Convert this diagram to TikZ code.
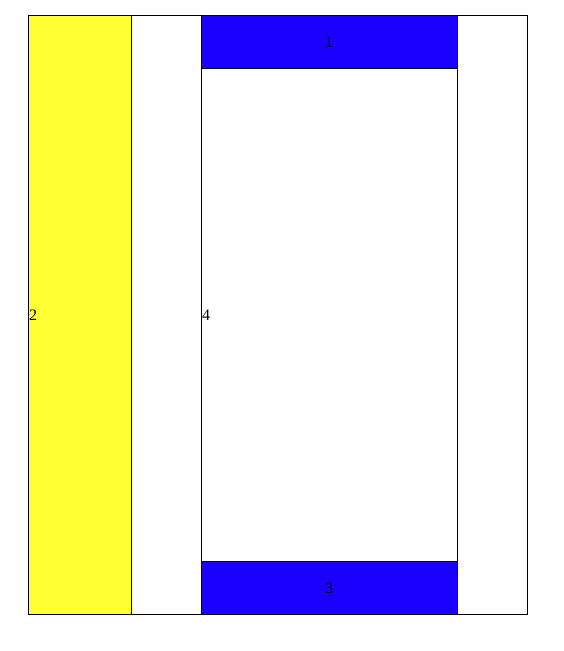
\documentclass[tikz,border=0pt]{standalone}
\usepackage{fontspec}
\setmainfont{Liberation Serif}
\usepackage{tikz}
\definecolor{bandyellow}{RGB}{255,255,51}
\definecolor{bandblue}{RGB}{25,0,255}
\begin{document}
\begin{tikzpicture}[x=1pt,y=-1pt,line cap=butt,line join=miter]
    \useasboundingbox (0,0) rectangle (564,651);
    \tikzset{lbl/.style={inner sep=0pt,font=\fontsize{16}{19}\selectfont}}
    \fill[bandyellow] (28,15) rectangle (131,614);
    \fill[bandblue] (201,15) rectangle (457,68);
    \fill[bandblue] (201,561) rectangle (457,614);
    \draw[line width=1pt] (28,15) rectangle (527,614);
    \draw[line width=1pt] (131,15) -- (131,614);
    \draw[line width=1pt] (201,15) rectangle (457,614);
    \draw[line width=1pt] (201,68) -- (457,68);
    \draw[line width=1pt] (201,561) -- (457,561);
    \node[lbl] (top) at (329,42) {1};
    \node[lbl,anchor=west] (left) at (29,315) {2};
    \node[lbl] (bottom) at (329,588) {3};
    \node[lbl,anchor=west] (mid) at (202,315) {4};
  \end{tikzpicture}
\end{document}
